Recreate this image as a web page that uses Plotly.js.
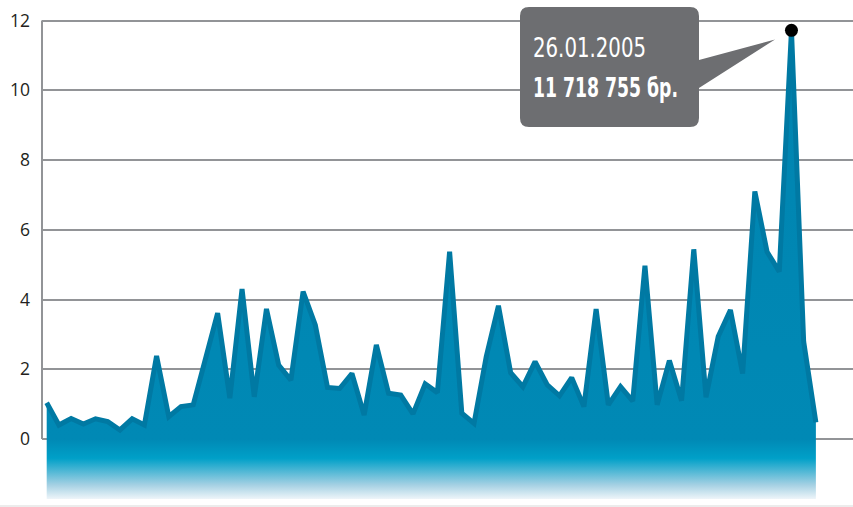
<!DOCTYPE html>
<html>
<head>
<meta charset="utf-8">
<script src="https://cdn.plot.ly/plotly-3.0.1.min.js"></script>
<style>
html,body{margin:0;padding:0;background:#ffffff;}
#chart{width:853px;height:507px;}
.annotation-text{font-stretch:75%;}
</style>
</head>
<body>
<div id="chart"></div>
<script>
// ---- data (millions, weekly) ----
const firstWeek = [2003, 10, 26];           // 26.11.2003 (UTC y, m-1, d)
const values = [
  1.04, 0.40, 0.59, 0.43, 0.58, 0.50, 0.26, 0.58, 0.40, 2.38,
  0.64, 0.93, 0.98, 2.32, 3.61, 1.17, 4.30, 1.21, 3.73, 2.12,
  1.69, 4.23, 3.27, 1.48, 1.45, 1.88, 0.69, 2.70, 1.31, 1.26,
  0.72, 1.58, 1.33, 5.37, 0.74, 0.45, 2.36, 3.82, 1.90, 1.50,
  2.22, 1.55, 1.24, 1.76, 0.93, 3.73, 0.98, 1.50, 1.09, 4.97,
  0.98, 2.25, 1.10, 5.44, 1.20, 2.94, 3.70, 1.88, 7.10, 5.37,
  4.80, 11.72, 2.79, 0.48
];
const peakDate = '2005-01-26';
const peakValue = 11.72;
const peakLabelDate = '26.01.2005';
const peakLabelValue = '11 718 755 бр.';
const yTickVals = [0, 2, 4, 6, 8, 10, 12];
const yTickText = ['0', '2', '4', '6', '8', '10', '12'];
const floorValue = -1.72;

// weekly category labels
const weeks = values.map((_, i) => {
  const d = new Date(Date.UTC(firstWeek[0], firstWeek[1], firstWeek[2]) + i * 7 * 86400000);
  return d.toISOString().slice(0, 10);
});

// ---- geometry helpers (pixel -> paper) ----
const M = {l: 42, r: 0, t: 0, b: 8};
const PW = 853 - M.l - M.r, PH = 507 - M.t - M.b;
const px = x => (x - M.l) / PW;
const py = y => (PH + M.t - y) / PH;

const baseTrace = {
  x: weeks, y: weeks.map(() => floorValue),
  type: 'scatter', mode: 'lines', line: {width: 0, color: 'rgba(0,0,0,0)'},
  hoverinfo: 'skip', showlegend: false
};
const areaTrace = {
  x: weeks, y: values,
  type: 'scatter', mode: 'lines', fill: 'tonexty',
  fillgradient: {
    type: 'vertical', start: floorValue, stop: 12,
    colorscale: [
      [0.000, '#eef5f9'],
      [0.030, '#a3d0e3'],
      [0.085, '#00a0c8'],
      [0.125, '#0089b5'],
      [1.000, '#0084b0']
    ]
  },
  line: {color: '#0079a3', width: 5},
  showlegend: false
};
const dotTrace = {
  x: [peakDate], y: [peakValue],
  type: 'scatter', mode: 'markers',
  marker: {color: '#000000', size: 13},
  showlegend: false, cliponaxis: false
};

// callout box path (pixel coords -> paper)
const bx0 = 520, bx1 = 699, by0 = 7, by1 = 127, r = 9;
const P = (x, y) => px(x).toFixed(5) + ',' + py(y).toFixed(5);
const calloutPath =
  'M' + P(bx0 + r, by0) + ' L' + P(bx1 - r, by0) + ' Q' + P(bx1, by0) + ' ' + P(bx1, by0 + r) +
  ' L' + P(bx1, 60) + ' L' + P(775, 39.5) + ' L' + P(bx1, 88) +
  ' L' + P(bx1, by1 - r) + ' Q' + P(bx1, by1) + ' ' + P(bx1 - r, by1) +
  ' L' + P(bx0 + r, by1) + ' Q' + P(bx0, by1) + ' ' + P(bx0, by1 - r) +
  ' L' + P(bx0, by0 + r) + ' Q' + P(bx0, by0) + ' ' + P(bx0 + r, by0) + ' Z';

const labelFont = '"Liberation Sans Narrow", "DejaVu Sans Condensed", "Open Sans", sans-serif';

const layout = {
  width: 853, height: 507,
  margin: M,
  paper_bgcolor: '#ffffff', plot_bgcolor: '#ffffff',
  showlegend: false,
  xaxis: {
    type: 'category', range: [-0.385, 66.04],
    showgrid: false, zeroline: false, showline: false,
    showticklabels: false, ticks: '', fixedrange: true
  },
  yaxis: {
    range: [floorValue, 12.59],
    tickmode: 'array', tickvals: yTickVals, ticktext: yTickText,
    showgrid: true, gridcolor: '#929497', gridwidth: 2,
    zeroline: false, showline: false, ticks: '',
    ticklabelstandoff: 11,
    tickfont: {family: '"Open Sans", "Noto Sans", sans-serif', size: 17.5, color: '#231f20'},
    fixedrange: true
  },
  shapes: [
    {type: 'line', xref: 'paper', yref: 'y', x0: 0, x1: 0, y0: 0, y1: 12,
     line: {color: '#929497', width: 2}, layer: 'above'},
    {type: 'line', xref: 'paper', yref: 'paper', x0: px(0), x1: 1, y0: py(506), y1: py(506),
     line: {color: '#e6e6e6', width: 1.5}},
    {type: 'path', xref: 'paper', yref: 'paper', path: calloutPath,
     fillcolor: '#6d6e71', line: {width: 0}, layer: 'above'}
  ],
  annotations: [
    {xref: 'paper', yref: 'paper', x: px(531), y: py(47.5), xanchor: 'left', yanchor: 'middle',
     align: 'left', text: peakLabelDate, showarrow: false,
     font: {family: labelFont, size: 27, color: '#ffffff'}},
    {xref: 'paper', yref: 'paper', x: px(531), y: py(87.5), xanchor: 'left', yanchor: 'middle',
     align: 'left', text: '<b>' + peakLabelValue + '</b>', showarrow: false,
     font: {family: labelFont, size: 27, color: '#ffffff'}}
  ]
};

// target widths (px) of the condensed label lines in the reference
const labelWidths = [113, 145];

Plotly.newPlot('chart', [baseTrace, areaTrace, dotTrace], layout, {displayModeBar: false, staticPlot: true})
  .then(gd => {
    const texts = gd.querySelectorAll('.annotation-text');
    texts.forEach((t, i) => {
      const w = t.getComputedTextLength();
      const target = labelWidths[i];
      if (target && w > target + 1) {
        const bb = t.getBBox();
        const x0 = bb.x;
        t.setAttribute('text-anchor', 'start');
        t.setAttribute('x', x0);
        t.querySelectorAll('tspan').forEach(s => { if (s.hasAttribute('x')) s.setAttribute('x', x0); });
        t.setAttribute('textLength', target);
        t.setAttribute('lengthAdjust', 'spacingAndGlyphs');
      }
    });
  });
</script>
</body>
</html>
